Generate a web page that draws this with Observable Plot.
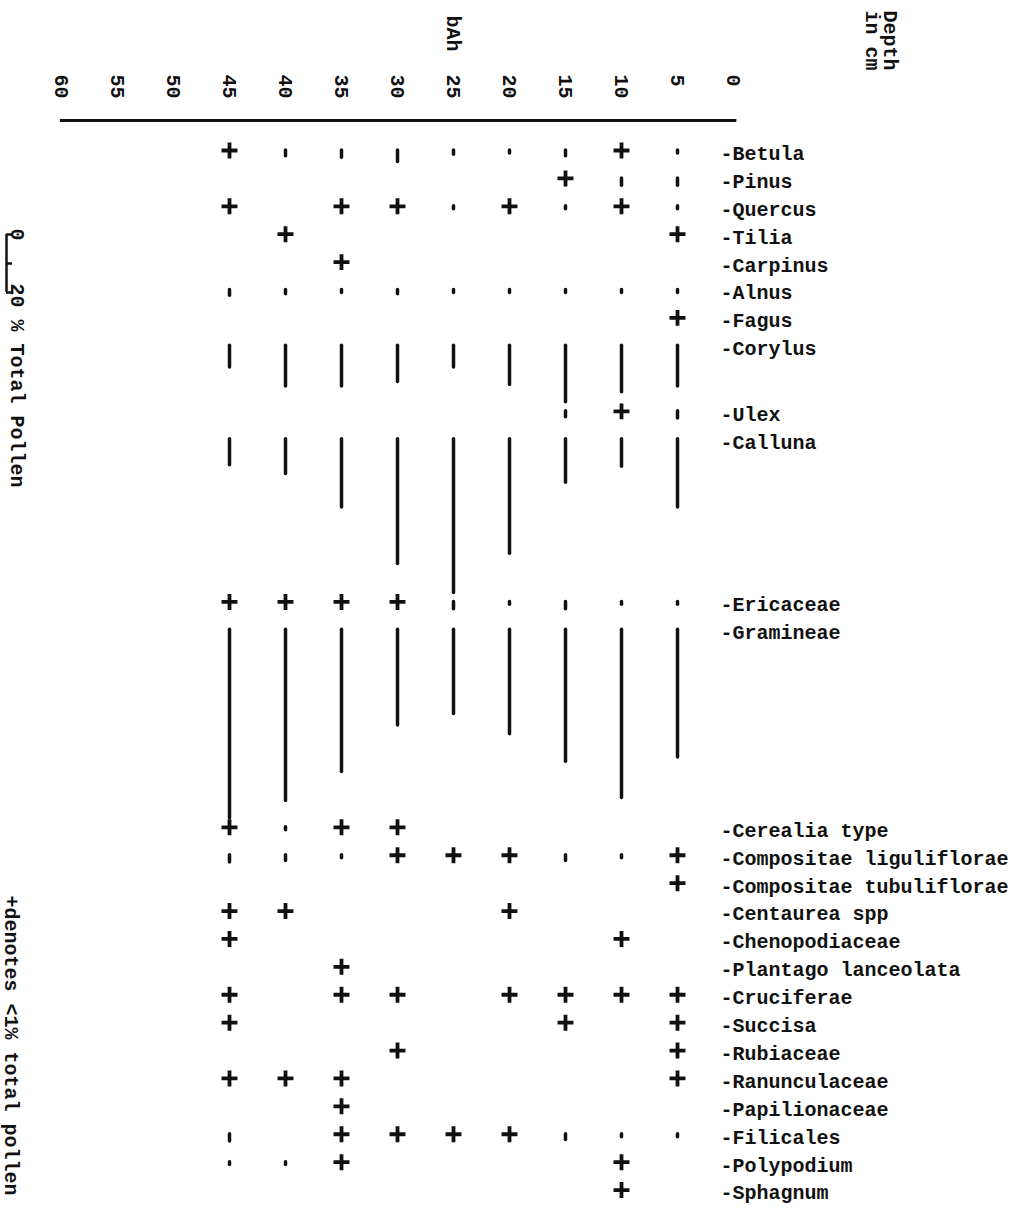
<!DOCTYPE html>
<html>
<head>
<meta charset="utf-8">
<script src="https://cdn.jsdelivr.net/npm/d3@7"></script>
<script src="https://cdn.jsdelivr.net/npm/@observablehq/plot@0.6"></script>
<style>
  html, body { margin: 0; padding: 0; background: #fff; }
  #chart { width: 1020px; height: 1219px; overflow: hidden; }
  #chart svg { display: block; }
</style>
</head>
<body>
<div id="chart"></div>
<script>
// ---------------- data ----------------
const P = "+"; // "+" denotes < 1% total pollen
const depths = [5, 10, 15, 20, 25, 30, 35, 40, 45];          // sample depths (cm)
const depthTicks = [0, 5, 10, 15, 20, 25, 30, 35, 40, 45, 50, 55, 60];
const taxa = [
  "Betula", "Pinus", "Quercus", "Tilia", "Carpinus", "Alnus", "Fagus",
  "Corylus", "Ulex", "Calluna", "Ericaceae", "Gramineae", "Cerealia type",
  "Compositae liguliflorae", "Compositae tubuliflorae", "Centaurea spp",
  "Chenopodiaceae", "Plantago lanceolata", "Cruciferae", "Succisa",
  "Rubiaceae", "Ranunculaceae", "Papilionaceae", "Filicales", "Polypodium",
  "Sphagnum"
];
// % total pollen per taxon, columns follow `depths` (5 ... 45 cm); null = absent
const values = [
  [1,    P,    2,    1,    1.5,  4,    2.5,  2,    P   ], // Betula
  [2.5,  2.5,  P,    null, null, null, null, null, null], // Pinus
  [1,    P,    1,    P,    1,    P,    P,    null, P   ], // Quercus
  [P,    null, null, null, null, null, null, P,    null], // Tilia
  [null, null, null, null, null, null, P,    null, null], // Carpinus
  [1,    1,    1,    1,    1,    1.5,  1,    1.5,  2   ], // Alnus
  [P,    null, null, null, null, null, null, null, null], // Fagus
  [14,   16,   19.5, 13.5, 7.5,  12.5, 14,   14,   7.5 ], // Corylus
  [2.5,  P,    2,    null, null, null, null, null, null], // Ulex
  [23.5, 9.5,  15,   39.5, 53,   43,   23.5, 12,   9   ], // Calluna
  [1,    1,    2.5,  1,    2.5,  P,    P,    P,    P   ], // Ericaceae
  [44,   58,   45.5, 36,   29,   33,   49,   59,   65  ], // Gramineae
  [null, null, null, null, null, P,    P,    1,    P   ], // Cerealia type
  [P,    1,    2,    P,    P,    P,    1,    2,    2.5 ], // Compositae liguliflorae
  [P,    null, null, null, null, null, null, null, null], // Compositae tubuliflorae
  [null, null, null, P,    null, null, null, P,    P   ], // Centaurea spp
  [null, P,    null, null, null, null, null, null, P   ], // Chenopodiaceae
  [null, null, null, null, null, null, P,    null, null], // Plantago lanceolata
  [P,    P,    P,    P,    null, P,    P,    null, P   ], // Cruciferae
  [P,    null, P,    null, null, null, null, null, P   ], // Succisa
  [P,    null, null, null, null, P,    null, null, null], // Rubiaceae
  [P,    null, null, null, null, null, P,    P,    P   ], // Ranunculaceae
  [null, null, null, null, null, null, P,    null, null], // Papilionaceae
  [1,    1,    2,    P,    P,    P,    P,    null, 2.5 ], // Filicales
  [null, P,    null, null, null, null, P,    1,    1   ], // Polypodium
  [null, P,    null, null, null, null, null, null, null]  // Sphagnum
];
const depthTitle = "Depth\nin cm";
const horizonLabel = "bAh";
const scaleNote = "20 % Total Pollen";
const plusNote = "+denotes <1% total pollen";

// ---------------- layout ----------------
const W = 1020, H = 1219;
const X0 = 733, XS = 11.2;          // pixel of 0 cm, pixels per cm
const AXIS_Y = 120, K = 2.9;        // axis line pixel, pixels per 1 %
const LINE = 27.9 / K, PAD = 9 / K, FIRST = 30 / K;
const FONT = "'Liberation Mono', 'DejaVu Sans Mono', monospace";

// each row is as tall as its longest bar (at least one typed line)
let acc = FIRST;
const base = taxa.map((t, i) => {
  const b = acc;
  const m = d3.max(values[i].filter(v => typeof v === "number")) || 0;
  acc += Math.max(LINE, m + PAD);
  return b;
});

const cells = taxa.flatMap((t, i) =>
  depths.map((d, j) => ({taxon: t, depth: d, v: values[i][j], base: base[i]}))
).filter(c => c.v != null);
const bars = cells.filter(c => typeof c.v === "number");
const pluses = cells.filter(c => c.v === P);

// legend scale bar (0–20 %)
const LEG0 = (234 - AXIS_Y) / K;
const legX = (X0 - 6) / XS, legArm = (X0 - 12) / XS;

const txt = {fontSize: 20, fontFamily: FONT, fontWeight: "bold", fill: "#111"};

const chart = Plot.plot({
  width: W, height: H,
  marginTop: 0, marginRight: 0, marginBottom: 0, marginLeft: 0,
  style: {background: "#fff", color: "#111", fontFamily: FONT},
  x: {type: "linear", domain: [0, 60], range: [X0, X0 - 60 * XS], axis: null},
  y: {type: "linear", domain: [0, (H - AXIS_Y) / K], range: [AXIS_Y, H], axis: null},
  marks: [
    // depth axis
    Plot.ruleY([0], {x1: 60.1, x2: -0.3, strokeWidth: 3, stroke: "#111"}),
    Plot.text(depthTicks, {x: d => d, y: 0, text: d => String(d), rotate: 90,
      textAnchor: "start", dy: -46, ...txt}),
    Plot.text([depthTitle], {frameAnchor: "top-left", dx: 896, dy: 10, rotate: 90,
      textAnchor: "start", lineHeight: 0.9, ...txt}),
    Plot.text([horizonLabel], {x: 25, y: 0, rotate: 90, textAnchor: "start", dy: -105, ...txt}),

    // pollen percentages
    Plot.ruleX(bars, {x: "depth", y1: "base", y2: d => d.base + d.v,
      strokeWidth: 3.5, strokeLinecap: "round", stroke: "#111"}),
    Plot.dot(pluses, {x: "depth", y: "base", symbol: "plus", r: 5.2,
      stroke: "#111", strokeWidth: 3.8}),

    // taxon labels
    Plot.text(taxa, {x: 0, y: (d, i) => base[i], text: d => "-" + d, dx: -13, dy: 3,
      textAnchor: "start", ...txt}),

    // scale legend 0–20 %
    Plot.ruleX([0], {x: legX, y1: LEG0, y2: LEG0 + 20, strokeWidth: 2.5, stroke: "#111"}),
    Plot.ruleY([0, 10, 20], {y: v => LEG0 + v, x1: legX, x2: legArm, strokeWidth: 2.5, stroke: "#111"}),
    Plot.text(["0"], {frameAnchor: "left", y: LEG0, dx: 17, dy: -6, rotate: 90, textAnchor: "start", ...txt}),
    Plot.text([scaleNote], {frameAnchor: "left", y: LEG0 + 20, dx: 17, dy: -9, rotate: 90, textAnchor: "start", ...txt}),
    Plot.text([plusNote], {frameAnchor: "top-left", dx: 19, dy: 895, rotate: 90, textAnchor: "start", ...txt})
  ]
});
document.getElementById("chart").appendChild(chart);
</script>
</body>
</html>
